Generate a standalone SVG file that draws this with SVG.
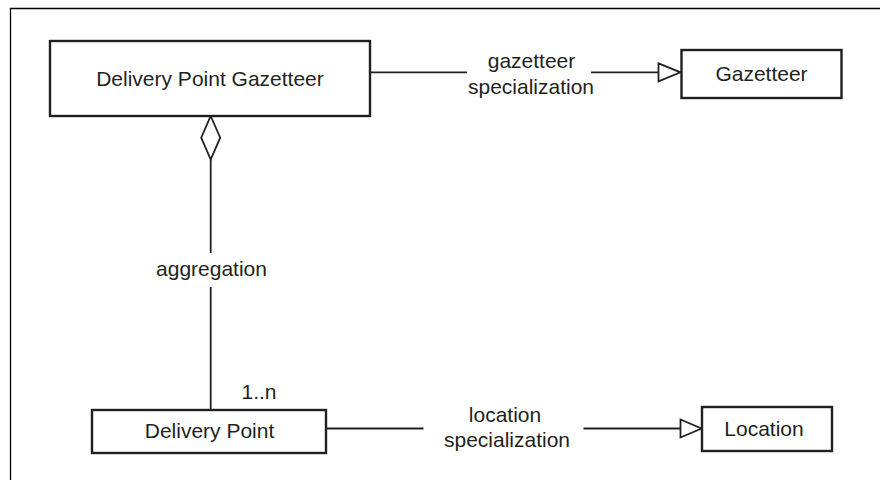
<svg xmlns="http://www.w3.org/2000/svg" width="880" height="480" viewBox="0 0 880 480">
<style>
.box{fill:#fff;stroke:#231f20;stroke-width:2.4}
.ln{fill:none;stroke:#231f20;stroke-width:1.8}
.head{fill:#fff;stroke:#231f20;stroke-width:1.8;stroke-linejoin:miter}
text{font-family:"Liberation Sans",Arial,sans-serif;font-size:21px;fill:#231f20;text-anchor:middle}
</style>
<rect width="880" height="480" fill="#fff"/>
<path d="M10.5,480 V8.5 H880" fill="none" stroke="#000" stroke-width="1.3"/>
<g id="connectors">
  <path class="ln" d="M370,72.3 H467"/>
  <path class="ln" d="M591,72.3 H658.5"/>
  <polygon class="head" points="658.5,63.3 680.5,72.3 658.5,81.3"/>
  <path class="ln" d="M210.7,159.5 V253"/>
  <path class="ln" d="M210.7,287 V410"/>
  <polygon class="head" points="210.7,116 220.2,137.7 210.7,159.5 201.2,137.7"/>
  <path class="ln" d="M326,428.5 H423.5"/>
  <path class="ln" d="M583.5,428.5 H680.5"/>
  <polygon class="head" points="680.5,419.5 701.5,428.5 680.5,437.5"/>
  <text x="531.5" y="68.3">gazetteer</text>
  <text x="531" y="93.5">specialization</text>
  <text x="211.5" y="275.7">aggregation</text>
  <text x="259" y="399">1..n</text>
  <text x="505" y="421.7">location</text>
  <text x="507" y="446.7">specialization</text>
</g>
<g id="delivery-point-gazetteer">
  <rect class="box" x="50" y="41" width="320" height="75"/>
  <text x="210" y="86">Delivery Point Gazetteer</text>
</g>
<g id="gazetteer">
  <rect class="box" x="681.5" y="50" width="160" height="48"/>
  <text x="761.5" y="80.5">Gazetteer</text>
</g>
<g id="delivery-point">
  <rect class="box" x="92" y="410" width="234" height="43"/>
  <text x="209.5" y="438">Delivery Point</text>
</g>
<g id="location">
  <rect class="box" x="702" y="407" width="130" height="44"/>
  <text x="764" y="435.5">Location</text>
</g>
</svg>
